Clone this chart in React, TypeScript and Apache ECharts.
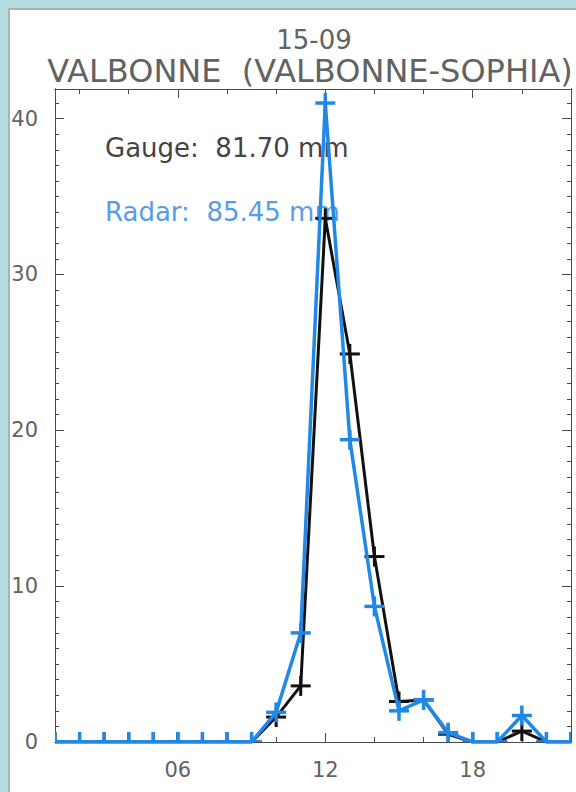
import React, { useEffect, useRef } from "react";
import * as echarts from "echarts";

const hours = [1, 2, 3, 4, 5, 6, 7, 8, 9, 10, 11, 12, 13, 14, 15, 16, 17, 18, 19, 20, 21, 22];
const gauge = [0, 0, 0, 0, 0, 0, 0, 0, 0, 1.6, 3.6, 33.6, 24.9, 11.9, 2.6, 2.7, 0.5, 0, 0, 0.7, 0, 0];
const radar = [0, 0, 0, 0, 0, 0, 0, 0, 0, 1.9, 7.0, 41.0, 19.4, 8.7, 2.0, 2.7, 0.6, 0, 0, 1.7, 0, 0];
const xMajorTicks = [6, 12, 18];
const xMinorTicks = [2, 4, 6, 8, 10, 12, 14, 16, 18, 20, 22];
const yMajorTicks = [0, 10, 20, 30, 40];
const xRange = [1, 22];
const yRange = [0, 41.9];
const titleLine1 = "15-09";
const titleLine2 = "VALBONNE  (VALBONNE-SOPHIA)";
const gaugeLabel = "Gauge:  81.70 mm";
const radarLabel = "Radar:  85.45 mm";

const FONT = "'DejaVu Sans', sans-serif";
const AXIS_COLOR = "#4a4a4a";
const TEXT_COLOR = "#626262";
const BLUE = "#2088e6";
const BLACK = "#111111";

function plusSeries(name: string, values: number[], color: string, z: number, width: number) {
  return {
    name,
    type: "custom",
    xAxisIndex: 0,
    yAxisIndex: 0,
    clip: true,
    z,
    data: hours.map((h, i) => [h, values[i]]),
    renderItem: (_params: any, api: any) => {
      const p = api.coord([api.value(0), api.value(1)]);
      const h = 10;
      return {
        type: "group",
        children: [
          { type: "line", shape: { x1: p[0] - h, y1: p[1], x2: p[0] + h, y2: p[1] }, style: { stroke: color, lineWidth: width } },
          { type: "line", shape: { x1: p[0], y1: p[1] - h, x2: p[0], y2: p[1] + h }, style: { stroke: color, lineWidth: width } },
        ],
      };
    },
  };
}

function xAxisDef(grid: number, pos: string, ticks: number[], len: number, labels: boolean) {
  return {
    type: "value",
    gridIndex: grid,
    position: pos,
    min: xRange[0],
    max: xRange[1],
    axisLine: { show: true, onZero: false, lineStyle: { color: AXIS_COLOR, width: 1 } },
    axisTick: { show: true, inside: true, length: len, customValues: ticks, lineStyle: { color: AXIS_COLOR, width: 1 } },
    axisLabel: labels
      ? {
          show: true,
          customValues: ticks,
          margin: 17,
          fontSize: 21,
          fontFamily: FONT,
          color: TEXT_COLOR,
          formatter: (v: number) => String(v).padStart(2, "0"),
        }
      : { show: false },
    splitLine: { show: false },
  };
}

function yAxisDef(grid: number, pos: string, major: boolean, labels: boolean) {
  const base: any = {
    type: "value",
    gridIndex: grid,
    position: pos,
    min: yRange[0],
    max: yRange[1],
    axisLine: { show: true, onZero: false, lineStyle: { color: AXIS_COLOR, width: 1 } },
    splitLine: { show: false },
  };
  if (major) {
    base.axisTick = { show: true, inside: true, length: 9, customValues: yMajorTicks, lineStyle: { color: AXIS_COLOR, width: 1 } };
    base.axisLabel = labels
      ? { show: true, customValues: yMajorTicks, margin: 17, fontSize: 21, fontFamily: FONT, color: TEXT_COLOR }
      : { show: false };
  } else {
    base.interval = 1;
    base.axisTick = { show: true, inside: true, length: 4, lineStyle: { color: AXIS_COLOR, width: 1 } };
    base.axisLabel = { show: false };
  }
  return base;
}

export default function App() {
  const ref = useRef<HTMLDivElement>(null);
  useEffect(() => {
    if (!ref.current) return;
    const chart = echarts.init(ref.current, undefined, { renderer: "svg" });
    const gridRect = { left: 55, right: 5, top: 89, bottom: 50 };
    chart.setOption({
      animation: false,
      backgroundColor: "transparent",
      grid: [
        { ...gridRect, containLabel: false },
        { ...gridRect, containLabel: false },
      ],
      xAxis: [
        xAxisDef(0, "bottom", xMajorTicks, 9, true),
        xAxisDef(0, "top", xMajorTicks, 9, false),
        xAxisDef(1, "bottom", xMinorTicks, 5, false),
        xAxisDef(1, "top", xMinorTicks, 5, false),
      ],
      yAxis: [
        yAxisDef(0, "left", true, true),
        yAxisDef(0, "right", true, false),
        yAxisDef(1, "left", false, false),
        yAxisDef(1, "right", false, false),
      ],
      graphic: [
        { type: "text", z: 1, style: { text: titleLine1, x: 314, y: 40, font: `26px ${FONT}`, fill: TEXT_COLOR, textAlign: "center", textVerticalAlign: "middle" } },
        { type: "text", z: 1, style: { text: titleLine2, x: 310, y: 71, font: `32px ${FONT}`, fill: TEXT_COLOR, textAlign: "center", textVerticalAlign: "middle" } },
        { type: "text", z: 1, style: { text: gaugeLabel, x: 105, y: 148, font: `26px ${FONT}`, fill: "#444444", textAlign: "left", textVerticalAlign: "middle" } },
        { type: "text", z: 1, style: { text: radarLabel, x: 105, y: 212, font: `26px ${FONT}`, fill: "#5a9be6", textAlign: "left", textVerticalAlign: "middle" } },
      ],
      series: [
        {
          name: "Gauge",
          type: "line",
          xAxisIndex: 0,
          yAxisIndex: 0,
          data: hours.map((h, i) => [h, gauge[i]]),
          showSymbol: false,
          clip: true,
          z: 3,
          lineStyle: { color: BLACK, width: 3 },
        },
        plusSeries("Gauge +", gauge, BLACK, 4, 3),
        {
          name: "Radar",
          type: "line",
          xAxisIndex: 0,
          yAxisIndex: 0,
          data: hours.map((h, i) => [h, radar[i]]),
          showSymbol: false,
          clip: true,
          z: 5,
          lineStyle: { color: BLUE, width: 3.5 },
        },
        plusSeries("Radar +", radar, BLUE, 6, 3.5),
      ],
    });
    return () => chart.dispose();
  }, []);
  return (
    <div style={{ position: "fixed", left: 0, top: 0, width: 576, height: 792, background: "#b4dde1", overflow: "hidden" }}>
      <div
        style={{
          position: "absolute",
          left: 8,
          top: 8,
          width: 580,
          height: 800,
          background: "#ffffff",
          borderTop: "2px solid #a9b3b4",
          borderLeft: "2px solid #a9b3b4",
          boxSizing: "border-box",
        }}
      />
      <div ref={ref} style={{ position: "absolute", left: 0, top: 0, width: 576, height: 792 }} />
    </div>
  );
}
